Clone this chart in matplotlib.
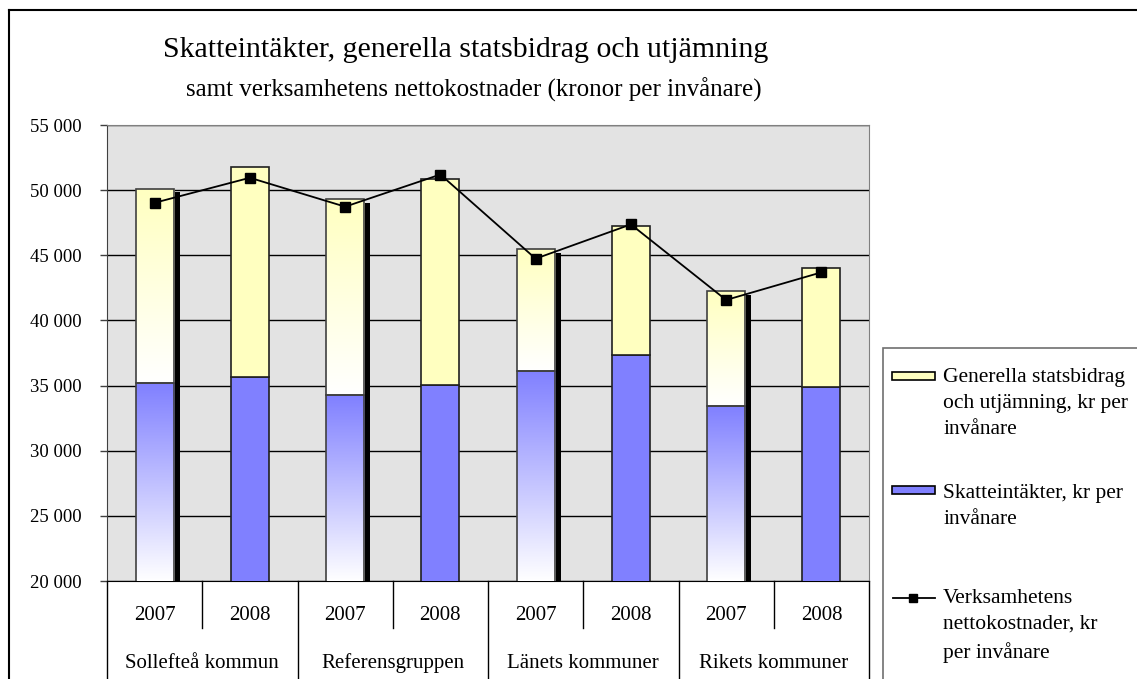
import numpy as np
import matplotlib.pyplot as plt
import matplotlib.transforms as mtransforms
from matplotlib.colors import LinearSegmentedColormap
from matplotlib.patches import Rectangle
from matplotlib.lines import Line2D

plt.rcParams['font.family'] = ['Liberation Serif', 'DejaVu Serif']

groups = ["Sollefteå kommun", "Referensgruppen", "Länets kommuner", "Rikets kommuner"]
years = ["2007", "2008", "2007", "2008", "2007", "2008", "2007", "2008"]
skatt = [35170, 35680, 34250, 35040, 36140, 37370, 33430, 34910]
bidrag = [14940, 16120, 15050, 15830, 9330, 9900, 8800, 9140]
netto = [49030, 50950, 48730, 51200, 44740, 47370, 41570, 43690]

blue = '#8080FF'
yellow = '#FFFFC0'
W, H = 1137, 679

fig = plt.figure(figsize=(W / 100, H / 100), dpi=100)
ax = fig.add_axes([107 / W, 98 / H, 762 / W, 456 / H])
ax.set_facecolor('#E3E3E3')

x = np.arange(len(years))
w = 0.40
ymin, ymax = 20000, 55000
total = [s + b for s, b in zip(skatt, bidrag)]
old = [i for i, y in enumerate(years) if y == "2007"]

# shadow behind the 2007 bars
ax.bar(x[old] + 0.063, [total[i] - 270 for i in old], w, color='black', zorder=2)

bars_s = ax.bar(x, skatt, w, color=blue, edgecolor='#202020', lw=1.2, zorder=3)
bars_b = ax.bar(x, bidrag, w, bottom=skatt, color=yellow, edgecolor='#202020', lw=1.2, zorder=3)

# gradient fill on the 2007 bars (white at bottom)
g = np.linspace(0, 1, 256).reshape(-1, 1)
for i in old:
    for bar, col, lo, hi in [(bars_s[i], blue, ymin, skatt[i]), (bars_b[i], yellow, skatt[i], total[i])]:
        bar.set_facecolor('none')
        bar.set_edgecolor('#404040')
        bar.set_zorder(4)
        cm = LinearSegmentedColormap.from_list('g', ['white', col])
        im = ax.imshow(g, extent=[x[i] - w / 2, x[i] + w / 2, lo, hi], origin='lower',
                       cmap=cm, aspect='auto', zorder=3, interpolation='bilinear')
        im.set_clip_path(bar)

ax.plot(x, netto, color='black', lw=1.3, marker='s', ms=7, zorder=6)

ax.set_xlim(-0.5, len(x) - 0.5)
ax.set_ylim(ymin, ymax)
yt = list(range(ymin, ymax + 1, 5000))
ax.set_yticks(yt)
ax.set_yticklabels([f"{v:,}".replace(',', ' ') for v in yt], fontsize=13.5)
ax.tick_params(axis='y', length=5, width=1, pad=13, color='#404040')
ax.set_xticks([])
ax.yaxis.grid(True, color='black', lw=1)
ax.set_axisbelow(True)
ax.spines['left'].set_color('#404040')
ax.spines['bottom'].set_color('black')
ax.spines['top'].set_color('#808080')
ax.spines['right'].set_color('#808080')

# category axis as a small table
tr = mtransforms.blended_transform_factory(ax.transData, ax.transAxes)
for i, y in enumerate(years):
    ax.text(x[i], -0.076, y, transform=tr, ha='center', va='center', fontsize=15)
for gi, name in enumerate(groups):
    ax.text(2 * gi + 0.5, -0.18, name, transform=tr, ha='center', va='center', fontsize=15)
    ax.add_artist(Line2D([2 * gi + 0.5] * 2, [0, -0.103], transform=tr, color='black', lw=1, clip_on=False))
for gi in range(len(groups) + 1):
    ax.add_artist(Line2D([2 * gi - 0.5] * 2, [0, -0.3], transform=tr, color='black', lw=1, clip_on=False))

# titles
fig.text(466 / W, 1 - 50 / H, "Skatteintäkter, generella statsbidrag och utjämning",
         ha='center', va='center', fontsize=21.5)
fig.text(474 / W, 1 - 90 / H, "samt verksamhetens nettokostnader (kronor per invånare)",
         ha='center', va='center', fontsize=18)

# outer chart border (cut off at the right and bottom)
fig.add_artist(Line2D([9 / W, 9 / W], [0, 1 - 10 / H], transform=fig.transFigure, color='black', lw=1.5))
fig.add_artist(Line2D([9 / W, 1], [1 - 10 / H, 1 - 10 / H], transform=fig.transFigure, color='black', lw=1.5))

# legend box
fig.add_artist(Rectangle((883 / W, -0.1), 0.3, 1.1 - 348 / H, transform=fig.transFigure,
                         facecolor='white', edgecolor='#707070', lw=1.2))
fig.add_artist(Rectangle((892 / W, 1 - 380 / H), 43 / W, 8 / H, transform=fig.transFigure,
                         facecolor=yellow, edgecolor='black', lw=1.2))
fig.add_artist(Rectangle((892 / W, 1 - 494 / H), 43 / W, 8 / H, transform=fig.transFigure,
                         facecolor=blue, edgecolor='black', lw=1.2))
fig.add_artist(Line2D([893 / W, 935 / W], [1 - 598 / H] * 2, transform=fig.transFigure,
                      color='black', lw=1.3))
fig.add_artist(Line2D([913 / W], [1 - 598 / H], transform=fig.transFigure,
                      color='black', marker='s', ms=6))
leg_text = ["Generella statsbidrag\noch utjämning, kr per\ninvånare",
            "Skatteintäkter, kr per\ninvånare",
            "Verksamhetens\nnettokostnader, kr\nper invånare"]
for t, yy in zip(leg_text, [368, 484, 589]):
    fig.text(943 / W, 1 - yy / H, t, ha='left', va='top', fontsize=15.5, linespacing=1.5)

fig.savefig('out.png', dpi=100)
